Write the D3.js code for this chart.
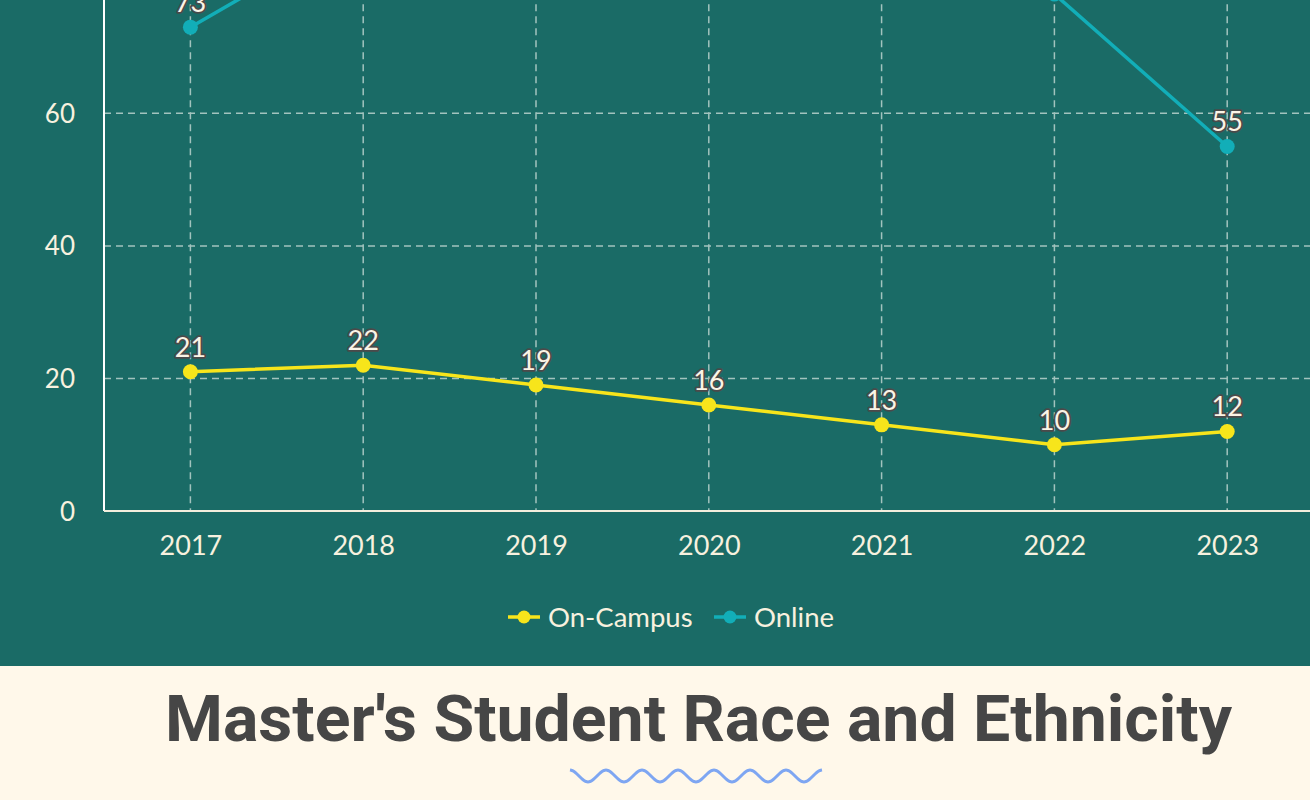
<!DOCTYPE html>
<html><head><meta charset="utf-8">
<script src="https://cdn.jsdelivr.net/npm/d3@7"></script>
<style>
html,body{margin:0;padding:0;background:#fff8ea;overflow:hidden;}
svg{display:block;}
</style></head>
<body>
<svg id="chart" width="1310" height="800"></svg>
<script>
const years = ["2017","2018","2019","2020","2021","2022","2023"];
const onCampus = [21, 22, 19, 16, 13, 10, 12];
const online = [73, 88, 86, 84, 82, 78, 55];
const yTicks = [0, 20, 40, 60];
const gridTicks = [20, 40, 60, 80, 100];
const seriesNames = ["On-Campus", "Online"];
const seriesColors = ["#f7e51b", "#12aeb8"];
const titleText = "Master's Student Race and Ethnicity";

const svg = d3.select("#chart");
svg.append("rect").attr("x",0).attr("y",0).attr("width",1310).attr("height",666).attr("fill","#1a6b66");
svg.append("rect").attr("x",0).attr("y",666).attr("width",1310).attr("height",134).attr("fill","#fff8ea");

const x = d3.scalePoint().domain(years).range([104, 1313.6]).padding(0.5);
const y = d3.scaleLinear().domain([0, 100]).range([511, 511 - 662.8]);

const g = svg.append("g");
// grid
g.append("g").selectAll("line").data(years).join("line")
  .attr("x1", d => x(d)).attr("x2", d => x(d)).attr("y1", y(100)).attr("y2", y(0))
  .attr("stroke", "#a2c3be").attr("stroke-width", 1.5).attr("stroke-dasharray", "7,5");
g.append("g").selectAll("line").data(gridTicks).join("line")
  .attr("x1", 104).attr("x2", 1313).attr("y1", d => y(d)).attr("y2", d => y(d))
  .attr("stroke", "#a2c3be").attr("stroke-width", 1.5).attr("stroke-dasharray", "7,5");

// axes
const yAxis = d3.axisLeft(y).tickValues(yTicks).tickSize(0).tickPadding(29);
const ya = g.append("g").attr("transform", "translate(104,0)").call(yAxis);
ya.select(".domain").attr("stroke", "#ffffff").attr("stroke-width", 2).attr("d", "M0,511V-160");
ya.selectAll("text").attr("fill", "#f7f1df").attr("font-family", "Lato, sans-serif").attr("font-size", 26).attr("dy", "0.35em");

const xAxis = d3.axisBottom(x).tickSize(0).tickPadding(25);
const xa = g.append("g").attr("transform", "translate(0,511)").call(xAxis);
xa.select(".domain").attr("stroke", "#f3eedd").attr("stroke-width", 2).attr("d", "M104,0H1313");
xa.selectAll("text").attr("fill", "#f7f1df").attr("font-family", "Lato, sans-serif").attr("font-size", 27);

const series = [onCampus, online];
series.forEach((vals, i) => {
  const data = years.map((yr, j) => ({yr, v: vals[j]}));
  const line = d3.line().x(d => x(d.yr)).y(d => y(d.v));
  g.append("path").datum(data).attr("d", line).attr("fill", "none")
    .attr("stroke", seriesColors[i]).attr("stroke-width", 3.5);
  g.append("g").selectAll("circle").data(data).join("circle")
    .attr("cx", d => x(d.yr)).attr("cy", d => y(d.v)).attr("r", 7.5).attr("fill", seriesColors[i]);
  // labels only where the page shows them (others sit above the visible area)
  g.append("g").selectAll("text").data(data.filter(d => y(d.v) - 15 > 0)).join("text")
    .attr("x", d => x(d.yr)).attr("y", d => y(d.v) - 15)
    .attr("text-anchor", "middle").attr("font-family", "Lato, sans-serif").attr("font-size", 27)
    .attr("fill", "#fbf4e6").attr("stroke", "#4a4a4a").attr("stroke-width", 3.5)
    .attr("paint-order", "stroke").attr("stroke-linejoin", "round")
    .text(d => d.v);
});

// legend
const legendItems = [{name: seriesNames[0], color: seriesColors[0], x: 508}, {name: seriesNames[1], color: seriesColors[1], x: 714}];
const lg = svg.append("g");
legendItems.forEach(it => {
  lg.append("line").attr("x1", it.x).attr("x2", it.x + 32).attr("y1", 617).attr("y2", 617)
    .attr("stroke", it.color).attr("stroke-width", 3.5);
  lg.append("circle").attr("cx", it.x + 16).attr("cy", 617).attr("r", 6.5).attr("fill", it.color);
  lg.append("text").attr("x", it.x + 40).attr("y", 617).attr("dy", "0.35em")
    .attr("font-family", "Lato, sans-serif").attr("font-size", 27.5).attr("fill", "#f7f1df").text(it.name);
});

// title
svg.append("text").attr("x", 165).attr("y", 741)
  .attr("font-family", "Roboto, 'Open Sans', sans-serif").attr("font-weight", 700).attr("font-size", 64)
  .attr("fill", "#464646").attr("textLength", 1067).attr("lengthAdjust", "spacingAndGlyphs")
  .text(titleText);

// wavy underline
const wave = d3.range(0, 7 * 36 + 1, 2).map(t => [570 + t, 776 - 6 * Math.cos(t / 36 * 2 * Math.PI)]);
svg.append("path").attr("d", d3.line().curve(d3.curveBasis)(wave)).attr("fill", "none")
  .attr("stroke", "#7ea6f2").attr("stroke-width", 3);
</script>
</body></html>
